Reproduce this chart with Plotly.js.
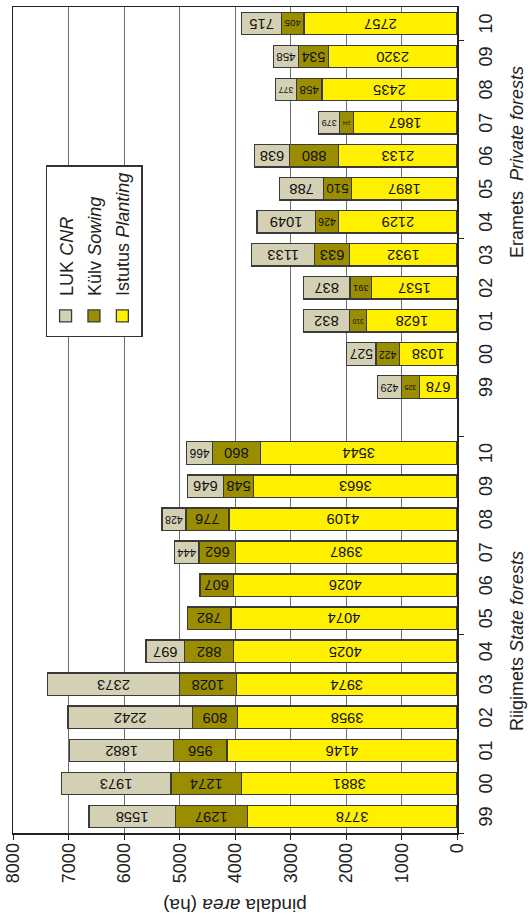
<!DOCTYPE html>
<html>
<head>
<meta charset="utf-8">
<script src="https://cdn.plot.ly/plotly-3.0.1.min.js"></script>
<style>
  html, body { margin: 0; padding: 0; background: #fff; overflow: hidden; }
  #wrap { position: absolute; left: 0; top: 0; width: 916px; height: 531px;
          transform-origin: 0 0; transform: translate(0px, 916px) rotate(-90deg); }
</style>
</head>
<body>
<div id="wrap"><div id="chart" style="width:916px;height:531px;"></div></div>
<script>
// Years (category tick labels)
const years = ["99", "00", "01", "02", "03", "04", "05", "06", "07", "08", "09", "10"];

// Riigimets – State forests (ha)
const statePlanting = [3778, 3881, 4146, 3958, 3974, 4025, 4074, 4026, 3987, 4109, 3663, 3544];
const stateSowing   = [1297, 1274, 956, 809, 1028, 882, 782, 607, 662, 776, 548, 860];
const stateCNR      = [1558, 1973, 1882, 2242, 2373, 697, null, null, 444, 428, 646, 466];

// Eramets – Private forests (ha)
const privPlanting = [678, 1038, 1628, 1537, 1932, 2129, 1897, 2133, 1867, 2435, 2320, 2757];
const privSowing   = [325, 422, 310, 391, 633, 426, 510, 880, 244, 458, 534, 405];
const privCNR      = [429, 527, 832, 837, 1133, 1049, 788, 638, 379, 377, 458, 715];

const seriesNames = ["Istutus <i>Planting</i>", "Külv <i>Sowing</i>", "LUK <i>CNR</i>"];
const groupNames = ["Riigimets <i>State forests</i>", "Eramets&nbsp; <i>Private forests</i>"];

const FONT = "'Liberation Sans Narrow', 'Arial Narrow', 'Liberation Sans', Arial, sans-serif";

// slot positions: state group, one empty slot, private group
const nY = years.length;
const stateX = years.map((_, i) => i);
const privX = years.map((_, i) => i + nY + 1);
const allX = stateX.concat(privX);
const allTicks = years.concat(years);

function mk(name, s, p, color, group, rank) {
  const y = s.concat(p);
  return {
    type: 'bar', name: name, x: allX, y: y,
    text: y.map(v => v == null ? '' : String(v)),
    textposition: 'inside', insidetextanchor: 'middle', textangle: -90,
    textfont: {family: FONT, size: 17, color: '#111'},
    insidetextfont: {family: FONT, size: 17, color: '#111'},
    marker: {color: color, line: {color: '#3a3a3a', width: 1.3}},
    legendgroup: group, legendrank: rank, hoverinfo: 'skip', cliponaxis: false
  };
}

const traces = [
  mk(seriesNames[0], statePlanting, privPlanting, '#FFF000', 'a', 3),
  mk(seriesNames[1], stateSowing, privSowing, '#9A8E00', 'b', 2),
  mk(seriesNames[2], stateCNR, privCNR, '#D4D0B4', 'c', 1)
];

const layout = {
  width: 916, height: 531,
  margin: {l: 83, r: 7, t: 13, b: 74, pad: 0},
  paper_bgcolor: '#fff', plot_bgcolor: '#fff',
  barmode: 'stack', bargap: 0.32,
  font: {family: FONT, size: 17, color: '#222'},
  showlegend: true,
  legend: {
    x: 0.6, y: 0.926, xanchor: 'left', yanchor: 'top',
    bgcolor: '#fff', bordercolor: '#333', borderwidth: 1.5,
    traceorder: 'grouped', tracegroupgap: 2,
    font: {family: FONT, size: 18, color: '#222'}
  },
  xaxis: {
    range: [-0.5, 2 * nY + 0.5],
    tickmode: 'array', tickvals: allX, ticktext: allTicks,
    ticks: '', showgrid: false, zeroline: false,
    showline: true, linecolor: '#222', linewidth: 1.5, mirror: true,
    tickfont: {family: FONT, size: 18, color: '#222'},
    ticklabelstandoff: 12,
    minor: {tickmode: 'array', tickvals: [-0.5, 5.5, 11.5, 17.5, 23.5], ticks: 'outside', ticklen: 5, tickcolor: '#222', tickwidth: 1, showgrid: false}
  },
  yaxis: {
    range: [0, 8000], dtick: 1000, tick0: 0,
    ticks: 'outside', ticklen: 5, tickcolor: '#222',
    showgrid: true, gridcolor: '#6e6e6e', gridwidth: 1, zeroline: false,
    showline: true, linecolor: '#222', linewidth: 1.5, mirror: true,
    tickfont: {family: FONT, size: 18, color: '#222'},
    title: {text: 'pindala <i>area</i> (ha)', standoff: 10, font: {family: FONT, size: 19, color: '#222'}},
    automargin: false
  },
  annotations: [
    {xref: 'x', yref: 'paper', x: 5.3, y: -0.108, yanchor: 'top', xanchor: 'center', showarrow: false,
     text: groupNames[0], font: {family: FONT, size: 18, color: '#222'}},
    {xref: 'x', yref: 'paper', x: 19.8, y: -0.108, yanchor: 'top', xanchor: 'center', showarrow: false,
     text: groupNames[1], font: {family: FONT, size: 18, color: '#222'}}
  ]
};

Plotly.newPlot('chart', traces, layout, {displayModeBar: false, staticPlot: true});
</script>
</body>
</html>
